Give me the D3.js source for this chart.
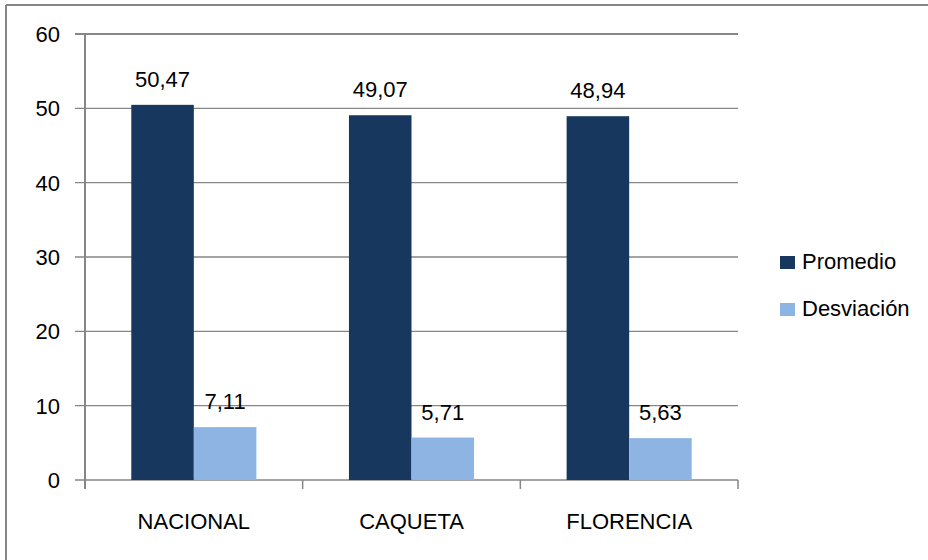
<!DOCTYPE html>
<html>
<head>
<meta charset="utf-8">
<script src="https://cdn.jsdelivr.net/npm/d3@7"></script>
<style>
  body { margin: 0; background: #fff; }
  text { font-family: "Liberation Sans", Arial, sans-serif; fill: #000; }
</style>
</head>
<body>
<svg width="928" height="560"></svg>
<script>
var categories = ["NACIONAL", "CAQUETA", "FLORENCIA"];
var series = ["Promedio", "Desviación"];
var promedio = [50.47, 49.07, 48.94];
var desviacion = [7.11, 5.71, 5.63];
var yTicks = [0, 10, 20, 30, 40, 50, 60];
var colors = ["#17375E", "#8EB4E3"];

var svg = d3.select("svg"),
    margin = {left: 85, right: 190, top: 34, bottom: 80},
    width = +svg.attr("width"),
    height = +svg.attr("height");

var values = [promedio, desviacion];
var rows = categories.map(function (c, i) {
    return {cat: c, vals: series.map(function (s, j) { return {s: s, v: values[j][i], j: j}; })};
});

// outer frame (only top and left show in the picture)
svg.append("line").attr("x1", 6).attr("x2", width).attr("y1", 5).attr("y2", 5)
    .attr("stroke", "#868686").attr("stroke-width", 2);
svg.append("line").attr("x1", 6).attr("x2", 6).attr("y1", 5).attr("y2", height)
    .attr("stroke", "#868686").attr("stroke-width", 2);

var x = d3.scaleBand()
    .domain(categories)
    .range([margin.left, width - margin.right]);

var xIn = d3.scaleBand()
    .domain(series)
    .range([0, x.bandwidth()])
    .paddingOuter(0.74);

var y = d3.scaleLinear()
    .domain([0, 60])
    .range([height - margin.bottom, margin.top]);

// gridlines + left ticks
svg.append("g")
    .selectAll("line")
    .data(yTicks)
    .enter().append("line")
    .attr("x1", margin.left - 10)
    .attr("x2", width - margin.right)
    .attr("y1", function (d) { return y(d); })
    .attr("y2", function (d) { return y(d); })
    .attr("stroke", "#868686")
    .attr("stroke-width", function (d) { return d == 60 ? 2 : 1.3; });

svg.append("g")
    .selectAll("text")
    .data(yTicks)
    .enter().append("text")
    .attr("x", 60)
    .attr("y", function (d) { return y(d); })
    .attr("dy", "0.36em")
    .attr("text-anchor", "end")
    .style("font-size", "22px")
    .text(function (d) { return d; });

// y axis line
svg.append("line")
    .attr("x1", margin.left).attr("x2", margin.left)
    .attr("y1", y(60)).attr("y2", y(0) + 9)
    .attr("stroke", "#868686").attr("stroke-width", 2);

// category ticks
var edges = categories.map(function (c) { return x(c); }).concat([x.range()[1]]);
svg.append("g")
    .selectAll("line")
    .data(edges.slice(1))
    .enter().append("line")
    .attr("x1", function (d) { return d; })
    .attr("x2", function (d) { return d; })
    .attr("y1", y(0))
    .attr("y2", y(0) + 9)
    .attr("stroke", "#868686")
    .attr("stroke-width", 1.5);

// bars
var groups = svg.append("g")
    .selectAll("g")
    .data(rows)
    .enter().append("g")
    .attr("transform", function (d) { return "translate(" + x(d.cat) + ",0)"; });

groups.selectAll("rect")
    .data(function (d) { return d.vals; })
    .enter().append("rect")
    .attr("x", function (d) { return xIn(d.s); })
    .attr("y", function (d) { return y(d.v); })
    .attr("width", xIn.bandwidth())
    .attr("height", function (d) { return y(0) - y(d.v); })
    .attr("fill", function (d) { return colors[d.j]; });

groups.selectAll("text")
    .data(function (d) { return d.vals; })
    .enter().append("text")
    .attr("x", function (d) { return xIn(d.s) + xIn.bandwidth() / 2; })
    .attr("y", function (d) { return y(d.v) - 18; })
    .attr("text-anchor", "middle")
    .style("font-size", "22px")
    .text(function (d) { return d3.format(".2f")(d.v).replace(".", ","); });

// category labels
svg.append("g")
    .selectAll("text")
    .data(categories)
    .enter().append("text")
    .attr("x", function (d) { return x(d) + x.bandwidth() / 2; })
    .attr("y", 529)
    .attr("text-anchor", "middle")
    .style("font-size", "22px")
    .text(function (d) { return d; });

// legend
var legend = svg.append("g")
    .selectAll("g")
    .data(series)
    .enter().append("g")
    .attr("transform", function (d, i) { return "translate(780," + (256 + i * 47) + ")"; });

legend.append("rect")
    .attr("width", 15)
    .attr("height", 13)
    .attr("fill", function (d, i) { return colors[i]; });

legend.append("text")
    .attr("x", 22)
    .attr("y", 13)
    .style("font-size", "22px")
    .text(function (d) { return d; });
</script>
</body>
</html>
